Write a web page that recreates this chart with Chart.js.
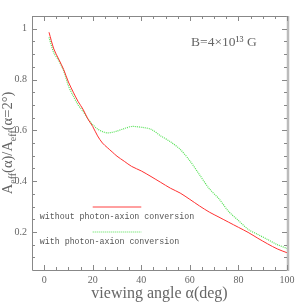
<!DOCTYPE html>
<html>
<head>
<meta charset="utf-8">
<script src="https://cdn.jsdelivr.net/npm/chart.js@4.4.0/dist/chart.umd.min.js"></script>
<style>
html,body{margin:0;padding:0;background:#fff;}
#caja{width:303px;height:303px;}
</style>
</head>
<body>
<div id="caja"><canvas id="grafica" width="303" height="303"></canvas></div>
<script>
/* datos */
var angulos = [2,4,6,8,10,12,14,16,18,20,22,24,26,28,30,33,36,40,44,48,52,56,60,64,68,72,76,80,84,88,92,96,100];
var sinConversion = [0.986,0.92,0.88,0.84,0.79,0.75,0.713,0.683,0.645,0.615,0.578,0.55,0.532,0.515,0.498,0.478,0.458,0.44,0.418,0.395,0.372,0.353,0.328,0.302,0.278,0.258,0.238,0.218,0.198,0.175,0.153,0.133,0.118];
var conConversion = [0.966,0.905,0.875,0.835,0.775,0.735,0.70,0.675,0.645,0.622,0.605,0.595,0.59,0.592,0.597,0.607,0.615,0.612,0.604,0.578,0.555,0.525,0.48,0.425,0.37,0.33,0.28,0.245,0.21,0.19,0.17,0.15,0.135];
var xTicks = [0,20,40,60,80,100];
var yTicks = [0.2,0.4,0.6,0.8,1];
var etiquetas = ["without photon-axion conversion","with photon-axion conversion"];
var campo = "B=4×10¹³ G";

var rojo = "#ff3030";
var verde = "#55e055";
var gris = "#666";

function puntos(ys){
  return angulos.map(function(a, i){ return {x: a, y: ys[i]}; });
}

var marco = {
  id: "marco",
  afterDraw: function(chart){
    var ctx = chart.ctx;
    var a = chart.chartArea;
    var sx = chart.scales.x;
    var sy = chart.scales.y;
    ctx.save();
    ctx.strokeStyle = "#888";
    ctx.lineWidth = 1;
    ctx.beginPath();
    ctx.moveTo(a.left + 0.5, a.top + 0.5);
    ctx.lineTo(a.right, a.top + 0.5);
    ctx.moveTo(a.left + 0.5, a.top);
    ctx.lineTo(a.left + 0.5, a.bottom + 0.5);
    ctx.lineTo(a.right, a.bottom + 0.5);
    ctx.stroke();
    ctx.strokeStyle = "#bbb";
    ctx.lineWidth = 2.5;
    ctx.beginPath();
    ctx.moveTo(a.right + 1, a.top);
    ctx.lineTo(a.right + 1, a.bottom + 1);
    ctx.stroke();

    // marcas hacia adentro
    ctx.strokeStyle = "#888";
    ctx.lineWidth = 1;
    ctx.beginPath();
    for (var v = 0; v <= 100; v += 5){
      var px = Math.round(sx.getPixelForValue(v)) + 0.5;
      var l = (v % 20 === 0) ? 5 : 3;
      ctx.moveTo(px, a.bottom); ctx.lineTo(px, a.bottom - l);
      ctx.moveTo(px, a.top); ctx.lineTo(px, a.top + l);
    }
    for (var k = 2; k <= 20; k++){
      var py = Math.round(sy.getPixelForValue(k * 0.05)) + 0.5;
      var m = (k % 4 === 0) ? 5 : 3;
      ctx.moveTo(a.left, py); ctx.lineTo(a.left + m, py);
      ctx.moveTo(a.right, py); ctx.lineTo(a.right - m, py);
    }
    ctx.stroke();

    // texto del campo
    ctx.fillStyle = gris;
    ctx.font = "13.5px 'Liberation Serif'";
    ctx.textBaseline = "middle";
    ctx.textAlign = "left";
    ctx.fillText(campo, sx.getPixelForValue(60.5), sy.getPixelForValue(0.944));

    // leyenda
    var colores = ["#ff4040", verde];
    var yLinea = [0.3, 0.2];
    var yTexto = [0.26, 0.162];
    for (var i = 0; i < 2; i++){
      ctx.save();
      ctx.strokeStyle = colores[i];
      ctx.lineWidth = 1;
      ctx.setLineDash(i === 1 ? [1, 1] : []);
      ctx.beginPath();
      var ly = Math.round(sy.getPixelForValue(yLinea[i]));
      ctx.moveTo(sx.getPixelForValue(20), ly);
      ctx.lineTo(sx.getPixelForValue(40), ly);
      ctx.stroke();
      ctx.restore();
      ctx.fillStyle = "#555";
      ctx.font = "8.3px 'Liberation Mono'";
      ctx.fillText(etiquetas[i], sx.getPixelForValue(-1.8), sy.getPixelForValue(yTexto[i]));
    }

    // titulo del eje y con subindices
    ctx.translate(8, (a.top + a.bottom) / 2);
    ctx.rotate(-Math.PI / 2);
    var partes = [["A",0],["eff",1],["(α)/A",0],["eff",1],["(α=2°)",0]];
    var ancho = 0;
    partes.forEach(function(p){
      ctx.font = p[1] ? "10px 'Liberation Serif'" : "14.5px 'Liberation Serif'";
      ancho += ctx.measureText(p[0]).width;
    });
    var x0 = -ancho / 2;
    ctx.fillStyle = gris;
    partes.forEach(function(p){
      ctx.font = p[1] ? "10px 'Liberation Serif'" : "14.5px 'Liberation Serif'";
      ctx.fillText(p[0], x0, p[1] ? 5 : 0);
      x0 += ctx.measureText(p[0]).width;
    });
    ctx.restore();
  }
};

var ctx = document.getElementById("grafica").getContext("2d");
var grafica = new Chart(ctx, {
  type: "line",
  data: {
    datasets: [{
      label: etiquetas[0],
      data: puntos(sinConversion),
      borderColor: rojo,
      borderWidth: 1,
      pointRadius: 0,
      tension: 0.3,
      fill: false
    }, {
      label: etiquetas[1],
      data: puntos(conConversion),
      borderColor: verde,
      borderWidth: 1.2,
      borderDash: [1, 1],
      pointRadius: 0,
      tension: 0.3,
      fill: false
    }]
  },
  options: {
    responsive: false,
    animation: false,
    devicePixelRatio: 1,
    layout: {padding: {top: 16, right: 16, left: 0, bottom: 0}},
    plugins: {legend: {display: false}, tooltip: {enabled: false}},
    scales: {
      x: {
        type: "linear",
        min: -5,
        max: 100,
        afterBuildTicks: function(s){ s.ticks = xTicks.map(function(v){ return {value: v}; }); },
        afterFit: function(s){ s.height = 33; },
        grid: {display: false, drawTicks: false},
        border: {display: false},
        ticks: {color: gris, padding: 4, maxRotation: 0, font: {family: "Liberation Serif", size: 10},
          callback: function(v){ return String(v); }},
        title: {display: true, text: "viewing angle α(deg)", color: gris, padding: 0,
          font: {family: "Liberation Serif", size: 16}}
      },
      y: {
        min: 0.05,
        max: 1.05,
        afterBuildTicks: function(s){ s.ticks = yTicks.map(function(v){ return {value: v}; }); },
        afterFit: function(s){ s.width = 32; },
        grid: {display: false, drawTicks: false},
        border: {display: false},
        ticks: {color: gris, padding: 5, font: {family: "Liberation Serif", size: 10},
          callback: function(v){ return v === 1 ? "1" : v.toFixed(1); }}
      }
    }
  },
  plugins: [marco]
});
</script>
</body>
</html>
